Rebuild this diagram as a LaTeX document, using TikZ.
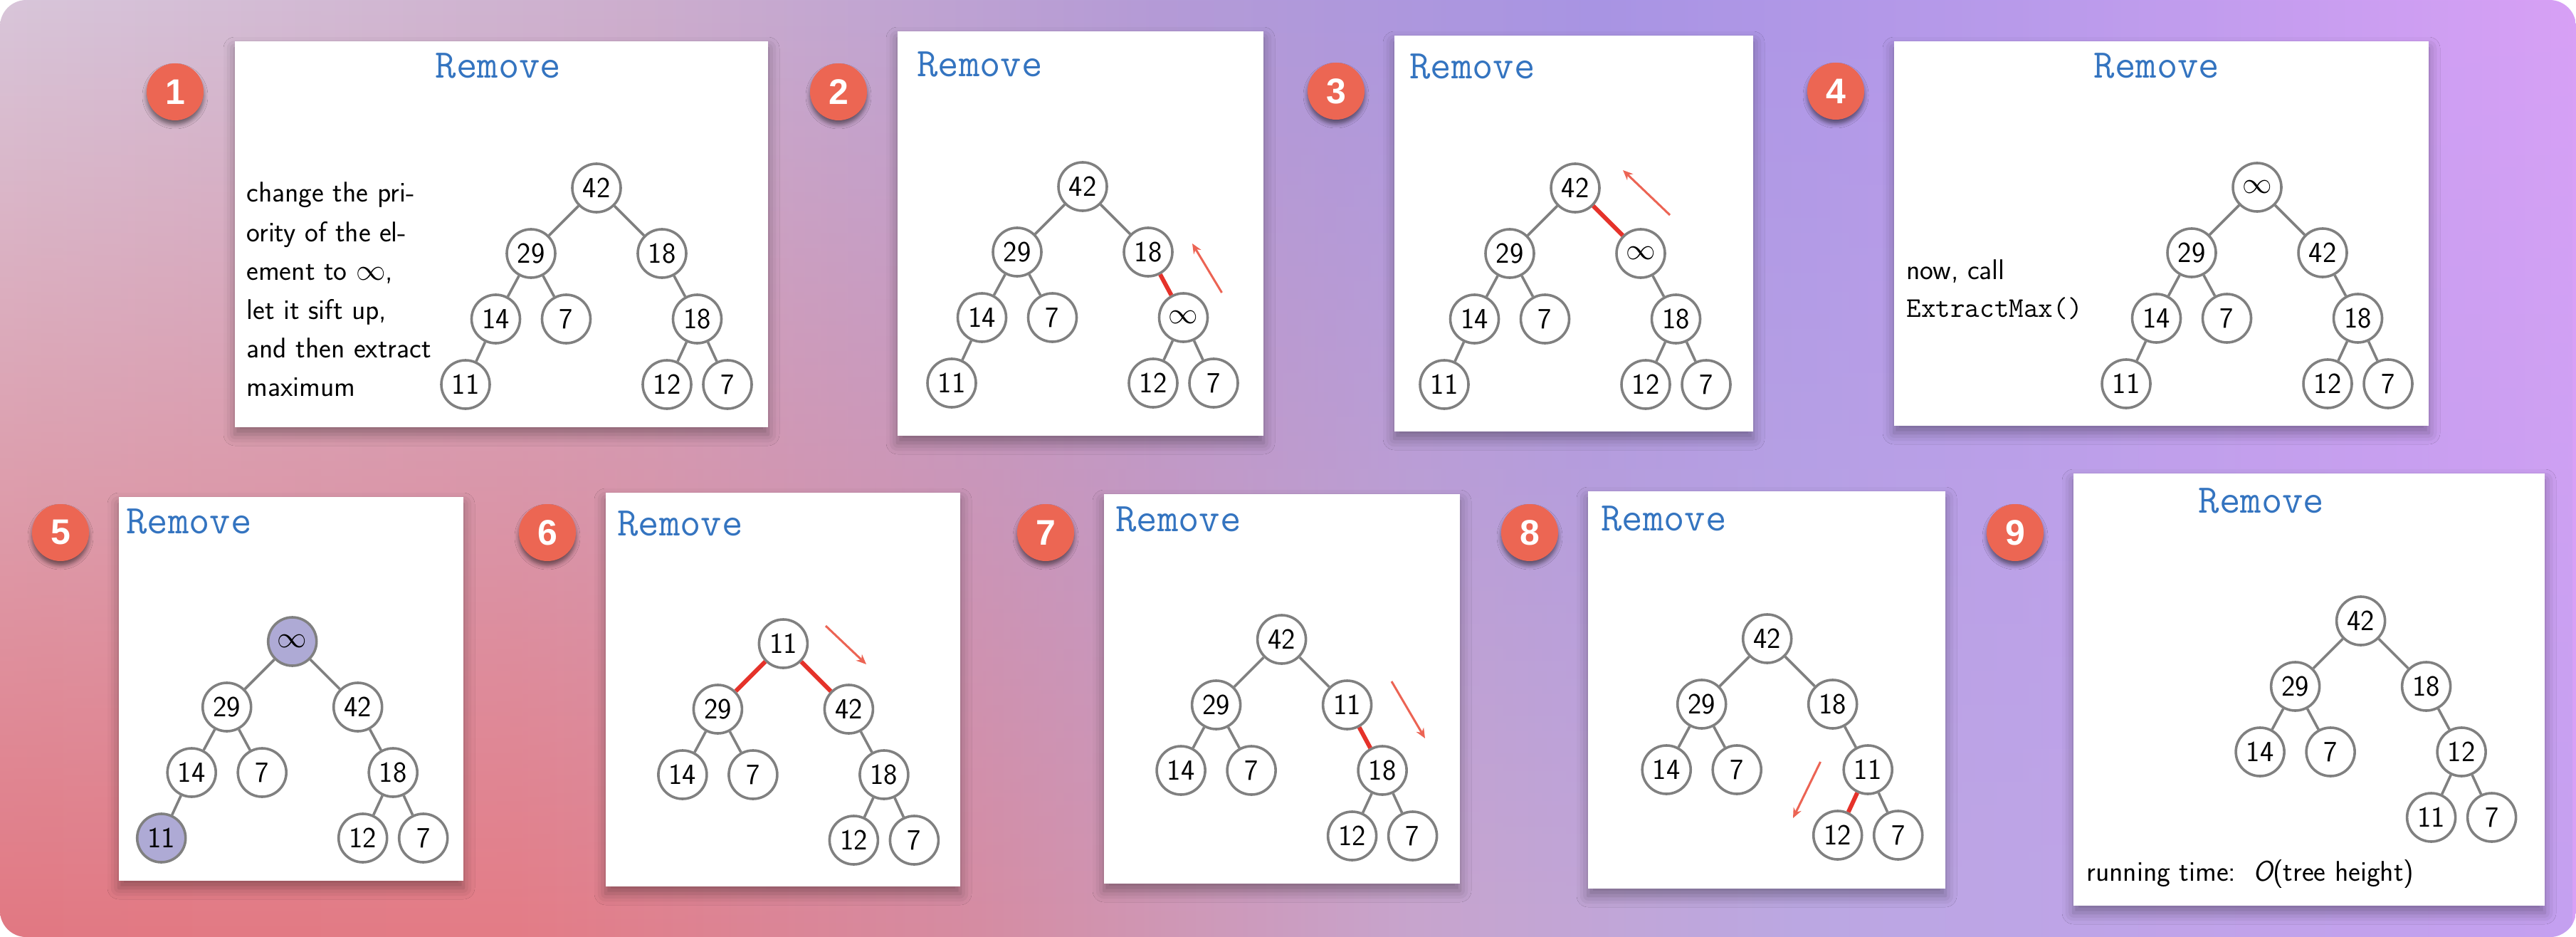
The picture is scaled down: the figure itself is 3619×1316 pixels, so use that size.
\documentclass[tikz,border=0pt]{standalone}
\usepackage{fontspec}
\newfontfamily\badgefont{Liberation Sans}
\usetikzlibrary{arrows.meta,shadows.blur,fadings}
\definecolor{tA}{RGB}{216,198,218}
\definecolor{tB}{RGB}{204,174,206}
\definecolor{tC}{RGB}{180,155,215}
\definecolor{tD}{RGB}{168,148,228}
\definecolor{tE}{RGB}{186,155,236}
\definecolor{tF}{RGB}{216,160,246}
\definecolor{bA}{RGB}{226,120,130}
\definecolor{bB}{RGB}{228,124,134}
\definecolor{bC}{RGB}{214,140,162}
\definecolor{bD}{RGB}{200,165,205}
\definecolor{bE}{RGB}{188,168,226}
\definecolor{bF}{RGB}{196,160,240}
\definecolor{badgecol}{RGB}{236,102,83}
\definecolor{titleblue}{RGB}{52,116,192}
\definecolor{nodegray}{RGB}{128,128,128}
\definecolor{hilite}{RGB}{174,170,213}
\definecolor{rededge}{RGB}{229,50,42}
\definecolor{arrowred}{RGB}{236,100,84}
\pgfdeclarehorizontalshading{toprow}{100bp}{color(0bp)=(tA); color(25bp)=(tA); color(37.5bp)=(tB); color(47.5bp)=(tC); color(56bp)=(tD); color(65bp)=(tE); color(75bp)=(tF); color(100bp)=(tF)}
\pgfdeclarehorizontalshading{botrow}{100bp}{color(0bp)=(bA); color(25bp)=(bA); color(35bp)=(bB); color(44bp)=(bC); color(52.5bp)=(bD); color(60bp)=(bE); color(75bp)=(bF); color(100bp)=(bF)}
\tikzfading[name=fadedown, top color=transparent!100, bottom color=transparent!0]
\tikzset{
  panel/.style={fill=white, blur shadow={shadow xshift=0pt, shadow yshift=-5pt, shadow blur radius=8pt, shadow opacity=35}},
  badge/.style={circle, fill=badgecol, minimum size=40pt, inner sep=0pt, text=white,
    font=\badgefont\bfseries\fontsize{25}{25}\selectfont,
    blur shadow={shadow xshift=0pt, shadow yshift=-3pt, shadow blur radius=3pt, shadow opacity=50}},
  ttl/.style={text=titleblue, font=\ttfamily\fontsize{28.5}{30}\selectfont, inner sep=0pt},
  hn/.style={circle, draw=nodegray, line width=1.8pt, fill=white, minimum size=34pt, inner sep=0pt,
    font=\sffamily\fontsize{20.5}{24}\selectfont},
  hl/.style={hn, fill=hilite},
  edge/.style={draw=nodegray, line width=1.8pt},
  redge/.style={draw=rededge, line width=3pt},
  rarrow/.style={draw=arrowred, line width=1.5pt, -{Stealth[length=7pt,width=6pt]}},
  txt/.style={font=\sffamily\fontsize{20}{27.2}\selectfont, inner sep=0pt, anchor=base west},
}
\begin{document}
\begin{tikzpicture}[x=0.5pt,y=-0.5pt]
\useasboundingbox (0,0) rectangle (3619,1316);
% background
\fill[white] (0,0) rectangle (3619,1316);
\begin{scope}
\clip[rounded corners=18.5pt] (0,0) rectangle (3619,1316);
\shade[shading=toprow] (0,0) rectangle (3619,1316);
\shade[shading=botrow, path fading=fadedown] (0,0) rectangle (3619,1316);
\end{scope}
% panels
\path[panel] (330,58) rectangle (1079,600);
\path[panel] (1261,44) rectangle (1775,612);
\path[panel] (1959,50) rectangle (2463,606);
\path[panel] (2661,58) rectangle (3412,598);
\path[panel] (167,698) rectangle (651,1237);
\path[panel] (851,692) rectangle (1349,1245);
\path[panel] (1551,694) rectangle (2051,1241);
\path[panel] (2231,690) rectangle (2733,1248);
\path[panel] (2913,665) rectangle (3575,1272);
% badges
\node[badge] (b1) at (246,129) {1};
\node[badge] (b2) at (1178,129) {2};
\node[badge] (b3) at (1877,128) {3};
\node[badge] (b4) at (2579,128) {4};
\node[badge] (b5) at (85,748) {5};
\node[badge] (b6) at (769,748) {6};
\node[badge] (b7) at (1469,748) {7};
\node[badge] (b8) at (2149,748) {8};
\node[badge] (b9) at (2831,748) {9};
% titles
\node[ttl, anchor=base] (t1) at (700,110) {Remove};
\node[ttl, anchor=base west] (t2) at (1288,108) {Remove};
\node[ttl, anchor=base west] (t3) at (1980,111) {Remove};
\node[ttl, anchor=base] (t4) at (3030,110) {Remove};
\node[ttl, anchor=base west] (t5) at (177,749) {Remove};
\node[ttl, anchor=base west] (t6) at (867,752) {Remove};
\node[ttl, anchor=base west] (t7) at (1567,746) {Remove};
\node[ttl, anchor=base west] (t8) at (2249,745) {Remove};
\node[ttl, anchor=base] (t9) at (3177,720) {Remove};
% panel 1 text
\node[txt] (x1a) at (346,284) {change the pri-};
\node[txt] (x1b) at (346,339) {ority of the el-};
\node[txt] (x1c) at (346,393) {ement to $\infty$,};
\node[txt] (x1d) at (346,448) {let it sift up,};
\node[txt] (x1e) at (346,502) {and then extract};
\node[txt] (x1f) at (346,556) {maximum};
% panel 4 text
\node[txt] (x4a) at (2678,392) {now, call};
\node[txt] (x4b) at (2678,445) {\ttfamily ExtractMax()};
% panel 9 text
\node[txt] (x9a) at (2931,1237) {running time:\hspace{0.6em}{\itshape O}(tree height)};
% ---------- panel 1
\begin{scope}[shift={(838,264)}]
\node[hn] (p1r) at (0,0) {42};
\node[hn] (p1a) at (-92,92) {29};
\node[hn] (p1b) at (92,92) {18};
\node[hn] (p1c) at (-141.5,184) {14};
\node[hn] (p1d) at (-42.5,184) {7};
\node[hn] (p1e) at (141.5,184) {18};
\node[hn] (p1f) at (-184,276) {11};
\node[hn] (p1g) at (99,276) {12};
\node[hn] (p1h) at (184,276) {7};
\end{scope}
\draw[edge] (p1r)--(p1a) (p1r)--(p1b) (p1a)--(p1c) (p1a)--(p1d) (p1b)--(p1e) (p1c)--(p1f) (p1e)--(p1g) (p1e)--(p1h);
% ---------- panel 2
\begin{scope}[shift={(1521,262)}]
\node[hn] (p2r) at (0,0) {42};
\node[hn] (p2a) at (-92,92) {29};
\node[hn] (p2b) at (92,92) {18};
\node[hn] (p2c) at (-141.5,184) {14};
\node[hn] (p2d) at (-42.5,184) {7};
\node[hn] (p2e) at (141.5,184) {$\infty$};
\node[hn] (p2f) at (-184,276) {11};
\node[hn] (p2g) at (99,276) {12};
\node[hn] (p2h) at (184,276) {7};
\coordinate (p2s) at (195.5,149);
\coordinate (p2t) at (154,80);
\end{scope}
\draw[edge] (p2r)--(p2a) (p2r)--(p2b) (p2a)--(p2c) (p2a)--(p2d) (p2c)--(p2f) (p2e)--(p2g) (p2e)--(p2h);
\draw[redge] (p2b)--(p2e);
\draw[rarrow] (p2s)--(p2t);
% ---------- panel 3
\begin{scope}[shift={(2213,264)}]
\node[hn] (p3r) at (0,0) {42};
\node[hn] (p3a) at (-92,92) {29};
\node[hn] (p3b) at (92,92) {$\infty$};
\node[hn] (p3c) at (-141.5,184) {14};
\node[hn] (p3d) at (-42.5,184) {7};
\node[hn] (p3e) at (141.5,184) {18};
\node[hn] (p3f) at (-184,276) {11};
\node[hn] (p3g) at (99,276) {12};
\node[hn] (p3h) at (184,276) {7};
\coordinate (p3s) at (133,38);
\coordinate (p3t) at (67,-25);
\end{scope}
\draw[edge] (p3r)--(p3a) (p3a)--(p3c) (p3a)--(p3d) (p3b)--(p3e) (p3c)--(p3f) (p3e)--(p3g) (p3e)--(p3h);
\draw[redge] (p3r)--(p3b);
\draw[rarrow] (p3s)--(p3t);
% ---------- panel 4
\begin{scope}[shift={(3171,263)}]
\node[hn] (p4r) at (0,0) {$\infty$};
\node[hn] (p4a) at (-92,92) {29};
\node[hn] (p4b) at (92,92) {42};
\node[hn] (p4c) at (-141.5,184) {14};
\node[hn] (p4d) at (-42.5,184) {7};
\node[hn] (p4e) at (141.5,184) {18};
\node[hn] (p4f) at (-184,276) {11};
\node[hn] (p4g) at (99,276) {12};
\node[hn] (p4h) at (184,276) {7};
\end{scope}
\draw[edge] (p4r)--(p4a) (p4r)--(p4b) (p4a)--(p4c) (p4a)--(p4d) (p4b)--(p4e) (p4c)--(p4f) (p4e)--(p4g) (p4e)--(p4h);
% ---------- panel 5
\begin{scope}[shift={(410.7,901)}]
\node[hl] (p5r) at (0,0) {$\infty$};
\node[hn] (p5a) at (-92,92) {29};
\node[hn] (p5b) at (92,92) {42};
\node[hn] (p5c) at (-141.5,184) {14};
\node[hn] (p5d) at (-42.5,184) {7};
\node[hn] (p5e) at (141.5,184) {18};
\node[hl] (p5f) at (-184,276) {11};
\node[hn] (p5g) at (99,276) {12};
\node[hn] (p5h) at (184,276) {7};
\end{scope}
\draw[edge] (p5r)--(p5a) (p5r)--(p5b) (p5a)--(p5c) (p5a)--(p5d) (p5b)--(p5e) (p5c)--(p5f) (p5e)--(p5g) (p5e)--(p5h);
% ---------- panel 6
\begin{scope}[shift={(1100.4,904)}]
\node[hn] (p6r) at (0,0) {11};
\node[hn] (p6a) at (-92,92) {29};
\node[hn] (p6b) at (92,92) {42};
\node[hn] (p6c) at (-141.5,184) {14};
\node[hn] (p6d) at (-42.5,184) {7};
\node[hn] (p6e) at (141.5,184) {18};
\node[hn] (p6g) at (99,276) {12};
\node[hn] (p6h) at (184,276) {7};
\coordinate (p6s) at (59.6,-25);
\coordinate (p6t) at (116.6,29);
\end{scope}
\draw[edge] (p6a)--(p6c) (p6a)--(p6d) (p6b)--(p6e) (p6e)--(p6g) (p6e)--(p6h);
\draw[redge] (p6r)--(p6a) (p6r)--(p6b);
\draw[rarrow] (p6s)--(p6t);
% ---------- panel 7
\begin{scope}[shift={(1800.6,898)}]
\node[hn] (p7r) at (0,0) {42};
\node[hn] (p7a) at (-92,92) {29};
\node[hn] (p7b) at (92,92) {11};
\node[hn] (p7c) at (-141.5,184) {14};
\node[hn] (p7d) at (-42.5,184) {7};
\node[hn] (p7e) at (141.5,184) {18};
\node[hn] (p7g) at (99,276) {12};
\node[hn] (p7h) at (184,276) {7};
\coordinate (p7s) at (154.4,59);
\coordinate (p7t) at (201.4,139);
\end{scope}
\draw[edge] (p7r)--(p7a) (p7r)--(p7b) (p7a)--(p7c) (p7a)--(p7d) (p7e)--(p7g) (p7e)--(p7h);
\draw[redge] (p7b)--(p7e);
\draw[rarrow] (p7s)--(p7t);
% ---------- panel 8
\begin{scope}[shift={(2482.7,897)}]
\node[hn] (p8r) at (0,0) {42};
\node[hn] (p8a) at (-92,92) {29};
\node[hn] (p8b) at (92,92) {18};
\node[hn] (p8c) at (-141.5,184) {14};
\node[hn] (p8d) at (-42.5,184) {7};
\node[hn] (p8e) at (141.5,184) {11};
\node[hn] (p8g) at (99,276) {12};
\node[hn] (p8h) at (184,276) {7};
\coordinate (p8s) at (74.8,173);
\coordinate (p8t) at (36.3,252);
\end{scope}
\draw[edge] (p8r)--(p8a) (p8r)--(p8b) (p8a)--(p8c) (p8a)--(p8d) (p8b)--(p8e) (p8e)--(p8h);
\draw[redge] (p8e)--(p8g);
\draw[rarrow] (p8s)--(p8t);
% ---------- panel 9
\begin{scope}[shift={(3316.6,872)}]
\node[hn] (p9r) at (0,0) {42};
\node[hn] (p9a) at (-92,92) {29};
\node[hn] (p9b) at (92,92) {18};
\node[hn] (p9c) at (-141.5,184) {14};
\node[hn] (p9d) at (-42.5,184) {7};
\node[hn] (p9e) at (141.5,184) {12};
\node[hn] (p9g) at (99,276) {11};
\node[hn] (p9h) at (184,276) {7};
\end{scope}
\draw[edge] (p9r)--(p9a) (p9r)--(p9b) (p9a)--(p9c) (p9a)--(p9d) (p9b)--(p9e) (p9e)--(p9g) (p9e)--(p9h);
\end{tikzpicture}
\end{document}
